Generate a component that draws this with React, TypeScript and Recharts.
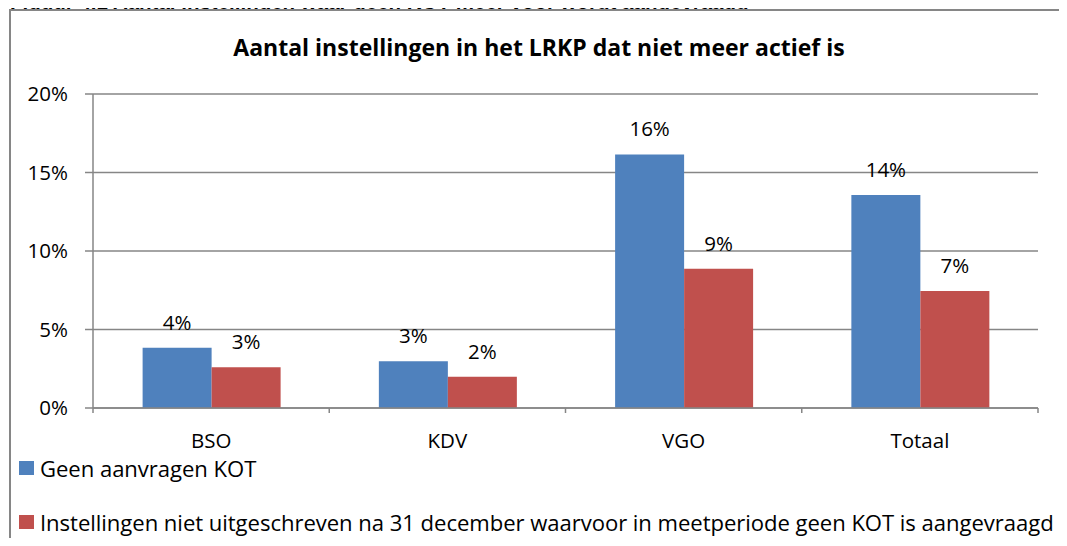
import React from 'react';
import { BarChart, Bar, XAxis, YAxis, CartesianGrid, Legend, LabelList } from 'recharts';

const categories = ['BSO', 'KDV', 'VGO', 'Totaal'];
const geenAanvragen = [3.84, 2.97, 16.15, 13.57];
const nietUitgeschreven = [2.59, 1.99, 8.87, 7.45];
const yTicks = [0, 5, 10, 15, 20];

const seriesNames = [
  'Geen aanvragen KOT',
  'Instellingen niet uitgeschreven na 31 december waarvoor in meetperiode geen KOT is aangevraagd',
];

const data = categories.map((name, i) => ({
  name,
  geen: geenAanvragen[i],
  niet: nietUitgeschreven[i],
}));

const FONT = '"Open Sans", "Noto Sans", sans-serif';
const GRID = '#868686';

const CHART_W = 1067;
const MARGIN = { top: 94, right: 29, bottom: 60, left: 0 };
const Y_W = 93;
const BAND = (CHART_W - MARGIN.left - MARGIN.right - Y_W) / categories.length;

// category label plus Excel-style tick marks at the band edges
const CategoryTick = (props: any) => {
  const { x, y, payload, index } = props;
  const axisY = y - 22;
  return (
    <g>
      <line x1={x - BAND / 2} x2={x - BAND / 2} y1={axisY} y2={axisY + 5} stroke={GRID} strokeWidth={1.5} />
      {index === categories.length - 1 && (
        <line x1={x + BAND / 2} x2={x + BAND / 2} y1={axisY} y2={axisY + 5} stroke={GRID} strokeWidth={1.5} />
      )}
      <text x={x} y={y} dy={18} textAnchor="middle" fill="#000" fontSize={20.5} fontFamily={FONT}>
        {payload.value}
      </text>
    </g>
  );
};

const renderLegend = (props: any) => {
  const items = props.payload || [];
  return (
    <div style={{ fontFamily: FONT, fontSize: 22.1, color: '#000' }}>
      {items.map((item: any, i: number) => (
        <div
          key={i}
          style={{ display: 'flex', alignItems: 'center', height: 28, marginBottom: i === 0 ? 26 : 0 }}
        >
          <span
            style={{
              display: 'inline-block',
              width: 15,
              height: 14,
              background: item.color,
              marginRight: 6,
              flexShrink: 0,
            }}
          />
          <span style={{ whiteSpace: 'nowrap', letterSpacing: -0.05 }}>{item.value}</span>
        </div>
      ))}
    </div>
  );
};

export default function App() {
  return (
    <div
      style={{
        position: 'relative',
        width: 1067,
        height: 546,
        margin: -8,
        overflow: 'hidden',
        background: '#fff',
      }}
    >
      <div
        style={{
          position: 'absolute',
          left: 9,
          top: 9,
          width: 1054,
          height: 560,
          border: `2px solid ${GRID}`,
        }}
      />
      <div
        style={{
          position: 'absolute',
          left: 10,
          top: -8,
          height: 17,
          overflow: 'hidden',
          fontFamily: '"Liberation Sans", Arial, sans-serif',
          fontWeight: 'bold',
          fontSize: 20.5,
          lineHeight: '20.5px',
          whiteSpace: 'nowrap',
          color: '#000',
        }}
      >
        Figuur 4.1 Aantal instellingen waar geen KOT meer voor wordt aangevraagd
      </div>
      <div
        style={{
          position: 'absolute',
          left: 0,
          top: 31,
          width: 1078,
          textAlign: 'center',
          fontFamily: FONT,
          fontWeight: 'bold',
          fontSize: 23,
          color: '#000',
        }}
      >
        Aantal instellingen in het LRKP dat niet meer actief is
      </div>
      <div style={{ position: 'absolute', left: 0, top: 0 }}>
        <BarChart
          width={CHART_W}
          height={546}
          data={data}
          margin={MARGIN}
          barCategoryGap="21%"
          barGap={0}
        >
          <CartesianGrid horizontal vertical={false} stroke={GRID} strokeWidth={1.5} />
          <XAxis
            dataKey="name"
            axisLine={{ stroke: GRID, strokeWidth: 1.5 }}
            tickLine={false}
            tickSize={0}
            tickMargin={22}
            height={78}
            tick={<CategoryTick />}
          />
          <YAxis
            width={Y_W}
            domain={[0, 20]}
            ticks={yTicks}
            tickFormatter={(v: number) => `${v}%`}
            tickSize={8}
            tickMargin={17}
            tickLine={{ stroke: GRID, strokeWidth: 1.5 }}
            axisLine={{ stroke: GRID, strokeWidth: 1.5 }}
            tick={{ fill: '#000', fontSize: 20.5, fontFamily: FONT }}
          />
          <Legend
            content={renderLegend}
            layout="horizontal"
            verticalAlign="bottom"
            align="left"
            wrapperStyle={{ position: 'absolute', left: 19, top: 454, width: 1048, height: 0, overflow: 'visible' }}
          />
          <Bar dataKey="geen" name={seriesNames[0]} fill="#4F81BD" isAnimationActive={false}>
            <LabelList
              dataKey="geen"
              position="top"
              offset={18}
              formatter={(v: any) => `${Math.round(Number(v))}%`}
              style={{ fill: '#000', fontSize: 20.5, fontFamily: FONT }}
            />
          </Bar>
          <Bar dataKey="niet" name={seriesNames[1]} fill="#C0504D" isAnimationActive={false}>
            <LabelList
              dataKey="niet"
              position="top"
              offset={18}
              formatter={(v: any) => `${Math.round(Number(v))}%`}
              style={{ fill: '#000', fontSize: 20.5, fontFamily: FONT }}
            />
          </Bar>
        </BarChart>
      </div>
    </div>
  );
}
